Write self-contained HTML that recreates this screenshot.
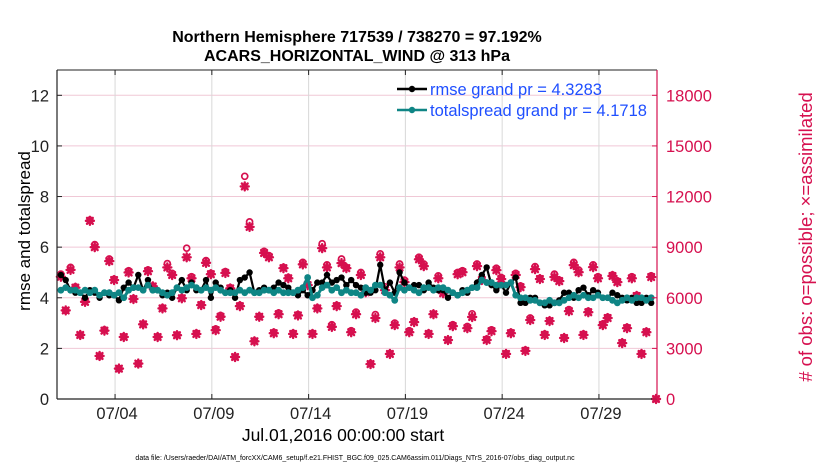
<!DOCTYPE html>
<html><head><meta charset="utf-8"><style>
body{margin:0;background:#fff;width:830px;height:470px;overflow:hidden}
svg{display:block;font-family:"Liberation Sans",Arial,sans-serif}
</style></head><body>
<svg id="chart" width="830" height="470" viewBox="0 0 830 470" xmlns="http://www.w3.org/2000/svg">
<rect width="830" height="470" fill="#fff"/>
<g id="grid"></g>
<g id="marks"></g>
<g id="axes"></g>
<text x="357" y="42" text-anchor="middle" font-size="16" font-weight="bold">Northern Hemisphere 717539 / 738270 = 97.192%</text>
<text x="357" y="61" text-anchor="middle" font-size="16" font-weight="bold">ACARS_HORIZONTAL_WIND @ 313 hPa</text>
<text transform="translate(30,231) rotate(-90)" text-anchor="middle" font-size="17">rmse and totalspread</text>
<text transform="translate(812,237) rotate(-90)" text-anchor="middle" font-size="18.5" fill="#d6104f"># of obs: o=possible; ×=assimilated</text>
<text x="343" y="441" text-anchor="middle" font-size="17.5">Jul.01,2016 00:00:00 start</text>
<text x="355" y="460" text-anchor="middle" font-size="7">data file: /Users/raeder/DAI/ATM_forcXX/CAM6_setup/f.e21.FHIST_BGC.f09_025.CAM6assim.011/Diags_NTrS_2016-07/obs_diag_output.nc</text>
<g>
<g>
<line x1="397" y1="89" x2="427" y2="89" stroke="#000" stroke-width="2.5"/><circle cx="412" cy="89" r="3.2" fill="#000"/>
<text x="430" y="95" font-size="16.5" fill="#1f4fff">rmse grand pr = 4.3283</text></g>
<g>
<line x1="397" y1="110" x2="427" y2="110" stroke="#0f8585" stroke-width="2.5"/><circle cx="412" cy="110" r="3.2" fill="#0f8585"/>
<text x="430" y="116" font-size="16.5" fill="#1f4fff">totalspread grand pr = 4.1718</text></g>
</g>
</svg>
<script>
const rmse=[4.9,4.7,4.3,4.2,4.2,4.0,4.3,4.2,4.0,4.2,4.1,4.1,3.9,4.4,4.6,4.4,4.9,4.3,4.7,4.3,4.3,4.1,4.2,4.0,4.4,4.7,4.3,4.6,4.3,4.3,4.7,4.0,4.6,4.4,4.2,4.3,4.0,4.7,4.8,5.0,4.2,4.3,4.4,4.3,4.4,4.6,4.5,4.4,4.2,4.1,4.3,4.1,4.3,4.6,4.6,4.9,4.6,4.7,4.8,4.5,4.7,4.5,4.4,4.2,4.2,4.3,5.3,4.3,4.6,4.2,5.0,4.6,4.4,4.5,4.5,4.3,4.6,4.4,4.3,4.3,4.0,4.2,4.1,4.3,4.2,4.4,4.6,4.9,5.2,4.5,4.3,4.5,4.2,4.6,4.8,3.8,3.8,4.0,4.0,3.8,3.7,3.7,3.8,3.9,4.2,4.2,4.0,4.3,4.4,4.1,4.3,4.2,4.0,4.0,4.2,4.1,4.0,3.9,4.0,3.8,3.8,4.0,3.8,null];
const spread=[4.3,4.4,4.3,4.3,4.2,4.3,4.2,4.3,4.1,4.2,4.2,4.1,4.2,4.0,4.3,4.4,4.4,4.3,4.5,4.3,4.3,4.2,4.1,4.2,4.4,4.3,4.4,4.5,4.4,4.3,4.4,4.3,4.4,4.3,4.2,4.2,4.2,4.3,4.2,4.3,4.2,4.2,4.3,4.3,4.2,4.3,4.2,4.2,4.2,4.3,4.4,4.8,4.0,4.1,4.4,4.5,4.3,4.4,4.2,4.3,4.2,4.2,4.1,4.4,4.3,4.5,4.5,4.2,4.1,3.9,4.4,4.3,4.4,4.3,4.2,4.4,4.4,4.3,4.4,4.4,4.3,4.2,4.1,4.2,4.3,4.4,4.4,4.7,4.6,4.6,4.5,4.5,4.5,4.6,4.1,4.0,4.0,3.9,3.9,3.8,3.8,3.9,3.8,3.8,3.9,4.0,4.1,4.0,4.1,4.0,4.0,4.1,4.0,4.0,3.9,3.8,3.9,4.0,3.9,4.0,4.0,3.9,4.0,null];
const assimilated=[7245,5250,7650,6600,3795,5760,10560,9000,2550,4050,8175,7050,1800,3675,7500,5925,2100,4425,7575,6675,3675,5370,7800,7350,3780,5970,8400,7155,3855,5565,8070,7395,4080,4875,7470,6555,2490,5505,12600,10200,3420,4875,8655,8400,3900,5025,7755,7155,3855,4950,7980,6750,3855,5370,8940,7800,4275,5505,8055,7755,3960,5025,7350,6330,2070,4800,8400,6450,2670,4380,7800,6930,3960,4560,8280,7875,3855,5025,7155,6270,3495,4320,7395,7515,4200,4860,7875,7050,3495,4020,7635,7110,2670,3900,7350,6630,2850,4680,7695,7110,3795,4620,7230,6990,3615,5205,7935,7515,3795,5145,7815,7155,4380,4800,7290,6930,3315,4200,7155,6105,2670,3960,7230,0];
const possible=[7400,5250,7800,6650,3800,5800,10600,9150,2550,4100,8300,7100,1800,3700,7600,5950,2100,4450,7650,6700,3700,5400,8025,7450,3800,6000,8940,7250,3900,5600,8200,7450,4150,4950,7550,6600,2500,5550,13200,10500,3450,4900,8750,8500,3950,5100,7800,7200,3900,5000,8100,6800,3900,5400,9200,7950,4400,5550,8300,7800,4050,5150,7500,6450,2100,5000,8600,6650,2700,4500,8000,7050,4050,4600,8400,8000,3900,5050,7300,6350,3500,4400,7500,7600,4300,5050,8000,7150,3550,4100,7750,7200,2700,3950,7450,6700,2900,4800,7850,7150,3850,4650,7400,7050,3650,5300,8100,7650,3850,5200,7950,7250,4450,4850,7350,7000,3350,4250,7250,6150,2700,4000,7300,0];
const yTicksLeft=[0,2,4,6,8,10,12];
const yTicksRight=[0,3000,6000,9000,12000,15000,18000];
const xTickDays=[3,8,13,18,23,28];
const xTickLabels=["07/04","07/09","07/14","07/19","07/24","07/29"];

const NS="http://www.w3.org/2000/svg";
const L=57,R=657,T=70,B=399;
const xs=d=>L+(d/31)*(R-L);
const yl=v=>B-(v/13)*(B-T);
const yr=v=>B-(v/19500)*(B-T);
const dayOf=i=>0.2+0.25*i;
function mk(tag,attrs,parent){const e=document.createElementNS(NS,tag);for(const k in attrs)e.setAttribute(k,attrs[k]);parent.appendChild(e);return e;}
const grid=document.getElementById('grid'),marks=document.getElementById('marks'),axes=document.getElementById('axes');

yTicksRight.forEach(v=>{const g=mk('line',{x1:L,x2:R,y1:yr(v),y2:yr(v),stroke:'#f0c8d6','stroke-width':1},grid);

});
xTickDays.forEach(d=>{const g=mk('line',{x1:xs(d),x2:xs(d),y1:T,y2:B,stroke:'#d8d8d8','stroke-width':1},grid);

});

function star(cx,cy,parent){const g=mk('g',{stroke:'#d6104f','stroke-width':2.4,'stroke-linecap':'round'},parent);
const s=4;mk('line',{x1:cx-s,x2:cx+s,y1:cy,y2:cy},g);mk('line',{x1:cx,x2:cx,y1:cy-s,y2:cy+s},g);
mk('line',{x1:cx-2.9,x2:cx+2.9,y1:cy-2.9,y2:cy+2.9},g);mk('line',{x1:cx-2.9,x2:cx+2.9,y1:cy+2.9,y2:cy-2.9},g);return g;}
possible.forEach((v,i)=>{const c=mk('circle',{cx:xs(dayOf(i)),cy:yr(v),r:3,fill:'none',stroke:'#d6104f','stroke-width':1.7},marks);

});
assimilated.forEach((v,i)=>{const s=star(xs(dayOf(i)),yr(v),marks);

});

function series(arr,color,w,r,name){
let d='';arr.forEach((v,i)=>{if(v==null)return;d+=(d?'L':'M')+xs(dayOf(i)).toFixed(1)+','+yl(v).toFixed(1);});
const p=mk('path',{d:d,fill:'none',stroke:color,'stroke-width':w,'stroke-linejoin':'round'},marks);


arr.forEach((v,i)=>{if(v==null)return;const c=mk('circle',{cx:xs(dayOf(i)),cy:yl(v),r:r,fill:color},marks);

});}
series(rmse,'#000',2.2,3.2,'rmse');
series(spread,'#0f8585',3,3.4,'totalspread');

const a1=mk('line',{x1:L,x2:L,y1:T,y2:B,stroke:'#222','stroke-width':1.2},axes);


const a2=mk('line',{x1:L,x2:R,y1:B,y2:B,stroke:'#222','stroke-width':1.2},axes);


const a3=mk('line',{x1:L,x2:R,y1:T,y2:T,stroke:'#222','stroke-width':1},axes);


const a4=mk('line',{x1:R,x2:R,y1:T,y2:B,stroke:'#d6104f','stroke-width':1.2},axes);


yTicksLeft.forEach(v=>{mk('line',{x1:L,x2:L+5,y1:yl(v),y2:yl(v),stroke:'#222'},axes);
const t=mk('text',{x:L-8,y:yl(v)+6,'text-anchor':'end','font-size':16.5,fill:'#222'},axes);t.textContent=v;

});
yTicksRight.forEach(v=>{mk('line',{x1:R-5,x2:R,y1:yr(v),y2:yr(v),stroke:'#d6104f'},axes);
const t=mk('text',{x:R+9,y:yr(v)+6,'font-size':16.5,fill:'#d6104f'},axes);t.textContent=v;

});
xTickDays.forEach((d,i)=>{mk('line',{x1:xs(d),x2:xs(d),y1:B-5,y2:B,stroke:'#222'},axes);mk('line',{x1:xs(d),x2:xs(d),y1:T,y2:T+5,stroke:'#222'},axes);
const t=mk('text',{x:xs(d)+2,y:B+20,'text-anchor':'middle','font-size':16.5,fill:'#222'},axes);t.textContent=xTickLabels[i];

});
</script>
</body></html>
